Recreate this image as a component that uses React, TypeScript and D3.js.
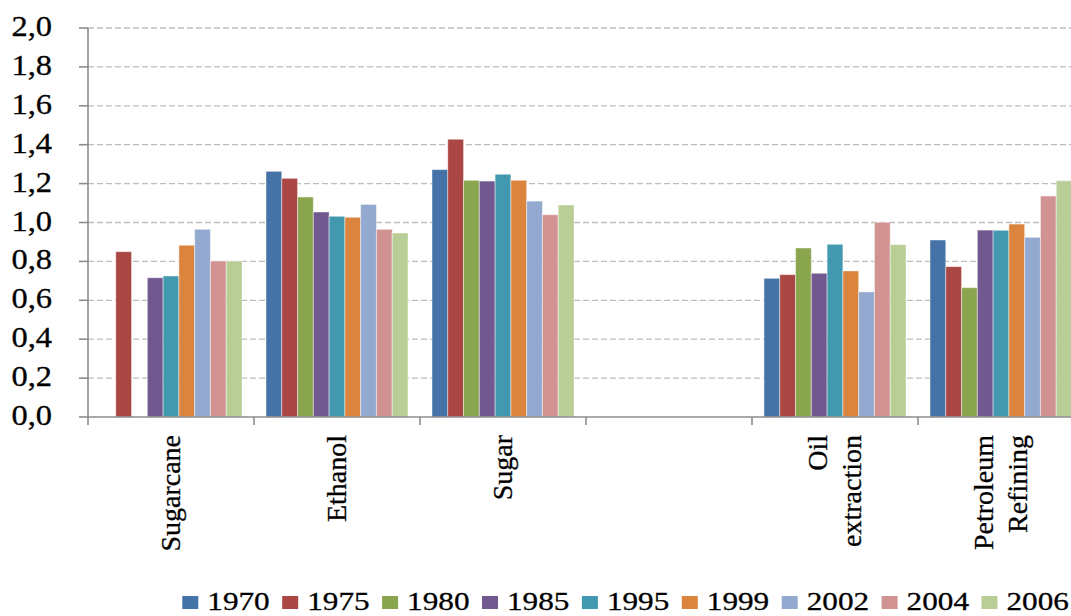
import * as d3 from 'd3';
import * as React from 'react';

const categories = [['Sugarcane'], ['Ethanol'], ['Sugar'], [''], ['Oil', 'extraction'], ['Petroleum', 'Refining']];
const years = ['1970', '1975', '1980', '1985', '1995', '1999', '2002', '2004', '2006'];
const colors = ['#4572A7', '#AA4643', '#89A54E', '#71588F', '#4198AF', '#DB843D', '#93A9CF', '#D19392', '#B9CD96'];

// one array per category, values in year order (null = no bar)
const sugarcane = [null, 0.85, null, 0.716, 0.725, 0.883, 0.965, 0.802, 0.802];
const ethanol = [1.263, 1.227, 1.131, 1.054, 1.032, 1.027, 1.093, 0.965, 0.946];
const sugar = [1.272, 1.428, 1.217, 1.213, 1.248, 1.217, 1.11, 1.04, 1.09];
const blank = [null, null, null, null, null, null, null, null, null];
const oilExtraction = [0.713, 0.732, 0.869, 0.739, 0.888, 0.751, 0.643, 1.001, 0.886];
const petroleumRefining = [0.91, 0.773, 0.665, 0.961, 0.96, 0.992, 0.924, 1.136, 1.215];

const values = [sugarcane, ethanol, sugar, blank, oilExtraction, petroleumRefining];
const yTicks = [0, 0.2, 0.4, 0.6, 0.8, 1.0, 1.2, 1.4, 1.6, 1.8, 2.0];

const W = 1071;
const H = 616;

const Chart = () => {
  const ref = React.useRef<SVGSVGElement | null>(null);

  React.useEffect(() => {
    if (!ref.current) return;
    const svg = d3.select(ref.current);
    svg.selectAll('*').remove();

    const left = 88;
    const catW = 166;
    const x0 = d3.scaleBand<number>().domain(d3.range(categories.length)).range([left, left + catW * categories.length]).padding(0);
    const x1 = d3.scaleBand<string>().domain(years).range([12, x0.bandwidth() - 12]).padding(0);
    const y = d3.scaleLinear().domain([0, 2]).range([417, 28]);

    const axisColor = '#8c8c8c';

    // gridlines
    svg.append('g')
      .selectAll('line')
      .data(yTicks.filter((t) => t > 0))
      .enter()
      .append('line')
      .attr('x1', left)
      .attr('x2', W)
      .attr('y1', (d) => y(d))
      .attr('y2', (d) => y(d))
      .attr('stroke', '#bdbdbd')
      .attr('stroke-width', 1.3)
      .attr('stroke-dasharray', '6,3');

    // bars
    const groups = svg.append('g')
      .selectAll('g')
      .data(values)
      .enter()
      .append('g')
      .attr('transform', (_d, i) => `translate(${x0(i)},0)`);

    groups.selectAll('rect')
      .data((d) => d.map((v, j) => ({ v, j })).filter((e) => e.v !== null))
      .enter()
      .append('rect')
      .attr('x', (d) => x1(years[d.j]))
      .attr('y', (d) => y(d.v))
      .attr('width', x1.bandwidth())
      .attr('height', (d) => y(0) - y(d.v))
      .attr('fill', (d) => colors[d.j])
      .attr('stroke', 'rgba(255,255,255,0.45)')
      .attr('stroke-width', 1);

    // y axis
    svg.append('line')
      .attr('x1', left).attr('x2', left)
      .attr('y1', y(2)).attr('y2', y(0) + 8)
      .attr('stroke', axisColor).attr('stroke-width', 1.6);

    svg.append('g')
      .selectAll('line')
      .data(yTicks)
      .enter()
      .append('line')
      .attr('x1', left - 9).attr('x2', left)
      .attr('y1', (d) => y(d)).attr('y2', (d) => y(d))
      .attr('stroke', axisColor).attr('stroke-width', 1.6);

    svg.append('g')
      .selectAll('text')
      .data(yTicks)
      .enter()
      .append('text')
      .attr('class', 'lbl')
      .attr('transform', (d) => `translate(52,${y(d) + 8}) scale(1.12,1)`)
      .attr('text-anchor', 'end')
      .attr('font-size', 29)
      .text((d) => d.toFixed(1).replace('.', ','));

    // x axis
    svg.append('line')
      .attr('x1', left).attr('x2', W)
      .attr('y1', y(0)).attr('y2', y(0))
      .attr('stroke', axisColor).attr('stroke-width', 1.6);

    svg.append('g')
      .selectAll('line')
      .data(d3.range(1, categories.length + 1))
      .enter()
      .append('line')
      .attr('x1', (i) => left + catW * i).attr('x2', (i) => left + catW * i)
      .attr('y1', y(0)).attr('y2', y(0) + 8)
      .attr('stroke', axisColor).attr('stroke-width', 1.6);

    // category labels, rotated
    categories.forEach((lines, i) => {
      const cx = x0(i) + x0.bandwidth() / 2;
      lines.forEach((line, k) => {
        const bx = cx + 9 + (k - (lines.length - 1) / 2) * 34;
        svg.append('text')
          .attr('class', 'lbl')
          .attr('transform', `translate(${bx},435) rotate(-90)`)
          .attr('text-anchor', 'end')
          .attr('font-size', 28)
          .text(line);
      });
    });

    // legend
    const legend = svg.append('g')
      .selectAll('g')
      .data(years)
      .enter()
      .append('g')
      .attr('transform', (_d, i) => `translate(${182.3 + i * 99.9},0)`);

    legend.append('rect')
      .attr('x', 0).attr('y', 596)
      .attr('width', 16).attr('height', 13)
      .attr('fill', (_d, i) => colors[i]);

    legend.append('text')
      .attr('class', 'lbl')
      .attr('transform', 'translate(25,610) scale(1.2,1)')
      .attr('font-size', 26)
      .text((d) => d);
  }, []);

  return (
    <svg ref={ref} width={W} height={H} style={{ display: 'block', background: '#fff' }} />
  );
};

export default function App() {
  return (
    <div style={{ position: 'absolute', left: 0, top: 0, width: W, height: H, overflow: 'hidden', background: '#fff' }}>
      <style>{`.lbl { font-family: "Liberation Serif", Tinos, "Times New Roman", Times, serif; fill: #000; stroke: #000; stroke-width: 0.3px; }`}</style>
      <Chart />
    </div>
  );
}
